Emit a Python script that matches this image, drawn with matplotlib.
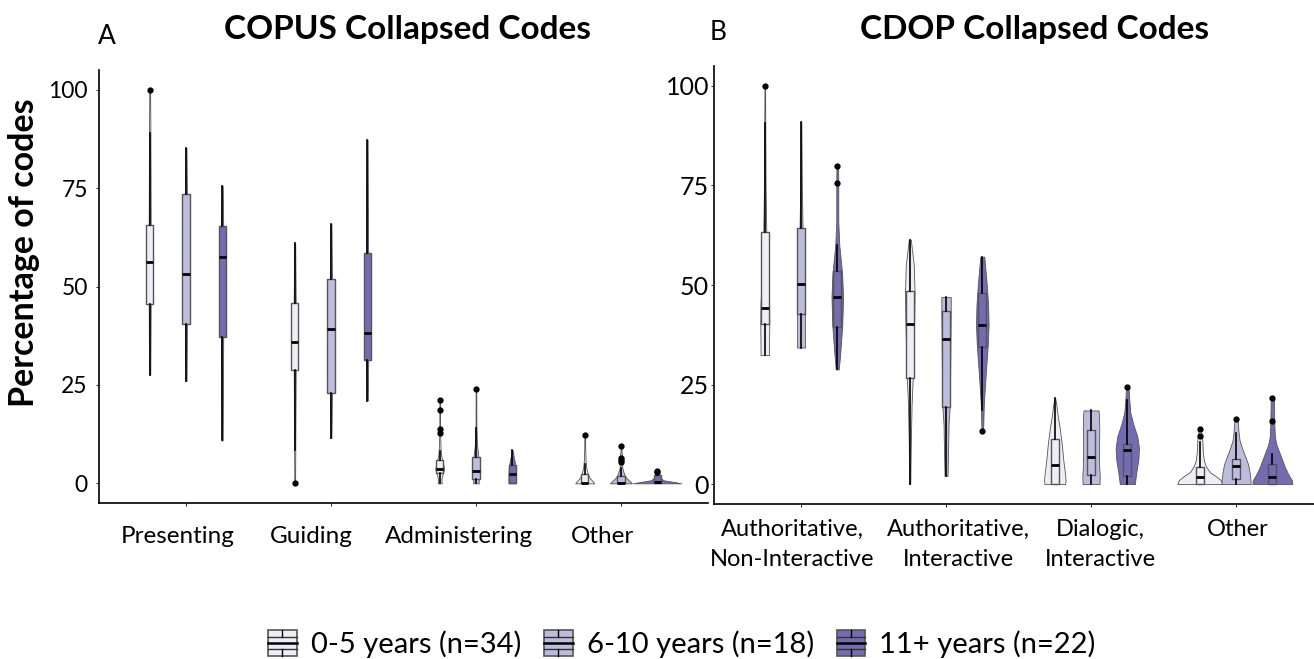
import matplotlib
matplotlib.use("Agg")
import matplotlib.pyplot as plt
from matplotlib.patches import Patch, Rectangle
from matplotlib.lines import Line2D
from matplotlib.legend_handler import HandlerBase
from matplotlib.transforms import ScaledTranslation

plt.rcParams['font.family'] = ['Lato', 'DejaVu Sans']

groups = ['0-5 years (n=34)', '6-10 years (n=18)', '11+ years (n=22)']
colors = ['#EFEDF5', '#BCBDDC', '#756BB1']

# ---- COPUS panel (A) ----
copus_cats = ['Presenting', 'Guiding', 'Administering', 'Other']
# box stats per category, one value per group
copus_q1 = [[45.6, 40.5, 37.1], [28.7, 23.0, 31.4], [2.7, 1.2, 0.0], [0.0, 0.0, 0.0]]
copus_med = [[56.2, 53.1, 57.4], [35.9, 39.2, 38.1], [3.6, 3.1, 2.3], [0.0, 0.0, 0.4]]
copus_q3 = [[65.7, 73.4, 65.4], [45.8, 52.0, 58.5], [5.8, 6.6, 4.7], [2.4, 1.9, 2.0]]
copus_lo = [[27.6, 26.0, 10.9], [8.4, 11.5, 21.0], [0.0, 0.0, 0.0], [0.0, 0.0, 0.0]]
copus_hi = [[89.0, 85.2, 75.6], [61.0, 65.9, 87.3], [8.2, 14.0, 8.4], [5.0, 4.0, 2.5]]
copus_out = [[[100.0], [], []],
             [[0.0], [], []],
             [[12.8, 13.9, 18.7, 21.2], [23.9], []],
             [[12.4], [5.5, 6.0, 6.5, 9.5], [2.8, 3.1]]]
# violin outlines: value levels and density (common scale)
copus_vy = [[[27.6, 45, 56, 66, 89, 100], [26.0, 40, 53, 73, 85.2], [10.9, 37, 57, 65, 75.6]],
            [[0.0, 10, 29, 36, 46, 61.0], [11.5, 23, 39, 52, 65.9], [21.0, 31, 38, 58, 87.3]],
            [[0, 1, 2, 3.6, 5.5, 7, 9, 14, 21.2], [0, 2, 4, 6.6, 10, 15, 23.9], [0, 2, 4, 5.5, 7, 8.4]],
            [[0, 0.5, 1.5, 2.5, 4, 6, 9, 12.4], [0, 0.5, 1.5, 2.5, 4, 5.5, 6.5, 8, 9.5], [0, 0.3, 0.8, 1.5, 2.5, 3.1]]]
copus_vd = [[[0.6, 1.0, 1.1, 1.0, 0.7, 0.4], [0.6, 1.0, 1.1, 1.0, 0.5], [0.5, 1.0, 1.1, 1.0, 0.5]],
            [[0.4, 0.6, 1.0, 1.1, 1.0, 0.5], [0.5, 1.0, 1.1, 1.0, 0.5], [0.6, 1.0, 1.1, 0.9, 0.4]],
            [[2, 1.6, 2.5, 4.5, 3, 1.5, 0.8, 0.4, 0.3], [2.7, 3, 3.3, 2.5, 1, 0.4, 0.3], [3.8, 3.8, 3.5, 2.5, 1.3, 0.5]],
            [[9.5, 8, 4.5, 3, 1.5, 0.8, 0.5, 0.3], [11, 9, 5, 3, 1.2, 1.5, 1.5, 0.5, 0.3], [24, 18, 6, 3, 2, 1]]]

# ---- CDOP panel (B) ----
cdop_cats = ['Authoritative,\nNon-Interactive', 'Authoritative,\nInteractive',
             'Dialogic,\nInteractive', 'Other']
cdop_q1 = [[40.2, 42.6, 39.4], [26.7, 19.4, 34.5], [0.0, 2.3, 2.0], [0.0, 1.2, 0.0]]
cdop_med = [[44.3, 50.3, 47.0], [40.2, 36.5, 40.0], [4.8, 6.9, 8.6], [1.8, 4.6, 1.7]]
cdop_q3 = [[63.3, 64.2, 53.6], [48.4, 43.5, 48.0], [11.3, 13.6, 10.1], [4.4, 6.4, 5.0]]
cdop_lo = [[32.4, 34.3, 28.8], [0.0, 2.1, 18.6], [0.0, 0.0, 0.0], [0.0, 0.0, 0.0]]
cdop_hi = [[90.6, 91.0, 60.0], [61.4, 47.0, 57.1], [21.5, 18.5, 21.0], [10.5, 12.8, 7.5]]
cdop_out = [[[100.0], [], [75.6, 79.9]],
            [[], [], [13.4]],
            [[], [], [24.4]],
            [[12.0, 13.9], [16.3], [15.9, 21.7]]]
cdop_vy = [[[32.4, 36, 40, 45, 55, 63, 75, 90, 100], [34.3, 38, 43, 50, 58, 64, 75, 91],
            [28.8, 33, 40, 47, 53, 60, 66, 75.6, 80]],
           [[0, 10, 20, 27, 35, 42, 48, 55, 61.4], [2.1, 8, 15, 20, 30, 38, 43, 47],
            [13.4, 20, 28, 35, 40, 45, 50, 57.1]],
           [[0, 1, 3, 6, 10, 14, 17, 20, 21.5], [0, 2, 5, 10, 14, 17, 18.5],
            [0, 3, 6, 9, 12, 15, 18, 21, 24.4]],
           [[0, 1, 2, 3, 4.5, 6, 8, 11, 13.9], [0, 1, 3, 5, 7, 9, 11, 13, 16.3],
            [0, 1, 2, 4, 6, 8, 10, 12, 15, 18, 21.7]]]
cdop_vd = [[[4.2, 4.3, 4.5, 4.3, 2.5, 1.5, 0.8, 0.5, 0.3], [4, 4, 4, 3.8, 2.5, 1.5, 0.8, 0.3],
            [1.5, 3, 5, 5.8, 4.8, 2, 1, 1, 0.8]],
           [[0.5, 1, 1.8, 3, 3.8, 4.5, 4.8, 4, 1], [1.5, 2, 2.5, 3.8, 4.2, 4.5, 4.7, 4.7],
            [0.8, 1.5, 3.5, 5.5, 6.3, 5.8, 4.5, 2]],
           [[10.3, 10.8, 10, 8.5, 7, 5, 3, 1.5, 0.5], [8.5, 8.7, 8, 8, 8.2, 8, 7.5],
            [7.5, 9, 11, 11.7, 10, 6, 3, 2, 1.2]],
           [[22.5, 21, 16, 10, 6, 4, 3, 2.5, 1], [14.5, 14.5, 13.5, 12, 9, 6, 3.5, 2.5, 1.5],
            [20, 19.5, 17, 13, 10, 7, 4, 2.5, 2, 1.8, 1.5]]]

dodge = 0.25
dens_scale = 1 / 145.0  # density units -> category units


def draw_panel(ax, cats, q1, med, q3, lo, hi, out, vy, vd, box_w):
    for i in range(len(cats)):
        for g in range(3):
            pos = i + 1 + (g - 1) * dodge
            ys, ds = vy[i][g], vd[i][g]
            stats = [dict(coords=ys, vals=ds, mean=med[i][g], median=med[i][g],
                          min=ys[0], max=ys[-1])]
            parts = ax.violin(stats, positions=[pos], widths=[2 * max(ds) * dens_scale],
                              showextrema=False)
            for b in parts['bodies']:
                b.set_facecolor(colors[g])
                b.set_edgecolor('#555555')
                b.set_linewidth(0.6)
                b.set_alpha(1)
                b.set_zorder(1)
            bs = [dict(q1=q1[i][g], med=med[i][g], q3=q3[i][g],
                       whislo=lo[i][g], whishi=hi[i][g], fliers=out[i][g])]
            ax.bxp(bs, positions=[pos], widths=box_w, patch_artist=True, showcaps=False,
                   boxprops=dict(facecolor=colors[g], edgecolor='#555555', linewidth=1.0),
                   medianprops=dict(color='black', linewidth=2.0),
                   whiskerprops=dict(color='black', linewidth=1.2),
                   flierprops=dict(marker='o', markerfacecolor='black', markeredgecolor='black',
                                   markersize=3.5),
                   zorder=2)
    ax.set_xlim(0.4, 4.6)
    ax.set_ylim(-5, 105)
    ax.set_yticks([0, 25, 50, 75, 100])
    ax.set_xticks(range(1, len(cats) + 1))
    ax.set_xticklabels(cats)
    for s in ['top', 'right']:
        ax.spines[s].set_visible(False)
    for s in ['left', 'bottom']:
        ax.spines[s].set_linewidth(1.2)
    ax.tick_params(axis='both', length=2.5, width=0.6)


def nudge_labels(ax, shifts_px):
    # the category labels in the original sit slightly off their ticks
    for lbl, dx in zip(ax.get_xticklabels(), shifts_px):
        lbl.set_transform(lbl.get_transform() +
                          ScaledTranslation(dx / 100, 0, fig.dpi_scale_trans))


fig = plt.figure(figsize=(13.14, 6.59), dpi=100)
axA = fig.add_axes([0.0753, 0.2367, 0.4635, 0.6571])
axB = fig.add_axes([0.5434, 0.2352, 0.4635, 0.6646])

draw_panel(axA, copus_cats, copus_q1, copus_med, copus_q3, copus_lo, copus_hi, copus_out,
           copus_vy, copus_vd, 0.05)
draw_panel(axB, cdop_cats, cdop_q1, cdop_med, cdop_q3, cdop_lo, cdop_hi, cdop_out,
           cdop_vy, cdop_vd, 0.055)
axA.tick_params(axis='y', pad=5.5, labelsize=16.5)
axA.tick_params(axis='x', pad=14, labelsize=17.5)
axB.tick_params(axis='y', pad=1, labelsize=18)
axB.tick_params(axis='x', pad=8, labelsize=17)
for lbl in axB.get_xticklabels():
    lbl.set_linespacing(1.55)
nudge_labels(axA, [-8, -20, -17, -18])
nudge_labels(axB, [-9, 12, 9, 2])

fig.text(408 / 1314, 1 - 30 / 659, 'COPUS Collapsed Codes', ha='center', va='center',
         fontsize=24, fontweight='bold')
fig.text(1035 / 1314, 1 - 30 / 659, 'CDOP Collapsed Codes', ha='center', va='center',
         fontsize=24, fontweight='bold')
fig.text(107 / 1314, 1 - 37 / 659, 'A', ha='center', va='center', fontsize=19)
fig.text(718 / 1314, 1 - 33 / 659, 'B', ha='center', va='center', fontsize=19)
fig.text(24 / 1314, 1 - 253 / 659, 'Percentage of codes', ha='center', va='center',
         rotation=90, fontsize=24.5, fontweight='bold')


class BoxKey(HandlerBase):
    def create_artists(self, legend, orig_handle, xdescent, ydescent, width, height,
                       fontsize, trans):
        x0, y0 = -xdescent, -ydescent
        fc = orig_handle.get_facecolor()
        arts = [Rectangle((x0, y0), width, height, facecolor=fc, edgecolor='#555555',
                          linewidth=1.2, transform=trans)]
        for f in (0.27, 0.73):
            arts.append(Line2D([x0, x0 + width], [y0 + f * height] * 2, color='#333333',
                               linewidth=1.0, transform=trans))
        arts.append(Line2D([x0, x0 + width], [y0 + 0.5 * height] * 2, color='black',
                           linewidth=1.8, transform=trans))
        arts.append(Line2D([x0 + width / 2] * 2, [y0, y0 + 0.27 * height], color='black',
                           linewidth=1.0, transform=trans))
        arts.append(Line2D([x0 + width / 2] * 2, [y0 + 0.73 * height, y0 + height],
                           color='black', linewidth=1.0, transform=trans))
        return arts


handles = [Patch(facecolor=c) for c in colors]
fig.legend(handles, groups, loc='center', bbox_to_anchor=(682 / 1314, 1 - 644 / 659),
           ncol=3, frameon=False, fontsize=21, handlelength=0.97, handleheight=1.0,
           handletextpad=0.48, columnspacing=0.8, borderpad=0,
           handler_map={Patch: BoxKey()})

fig.savefig('out.png', dpi=100)
